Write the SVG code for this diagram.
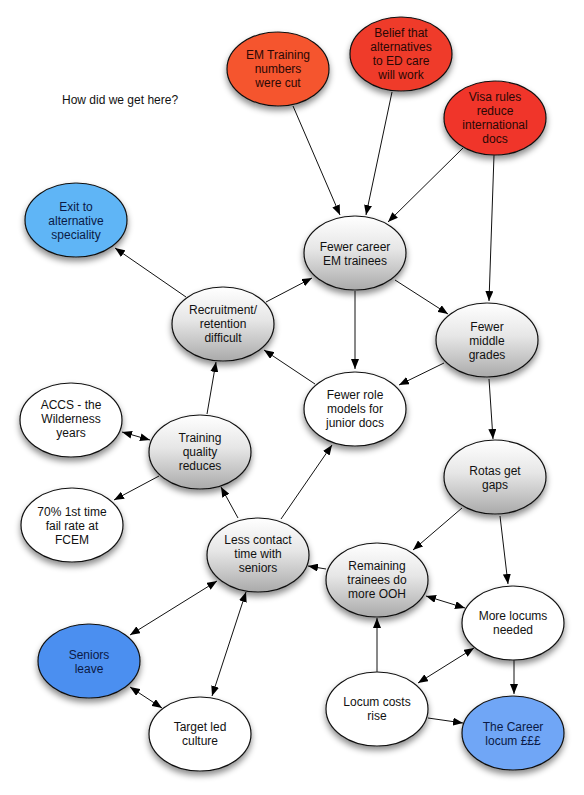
<svg xmlns="http://www.w3.org/2000/svg" width="584" height="795" viewBox="0 0 584 795">
<defs>
<linearGradient id="gray" x1="0" y1="0" x2="0" y2="1">
<stop offset="0" stop-color="#ffffff"/>
<stop offset="0.45" stop-color="#e6e6e6"/>
<stop offset="1" stop-color="#aaaaaa"/>
</linearGradient>
<filter id="sh" x="-20%" y="-20%" width="140%" height="150%">
<feDropShadow dx="0" dy="4" stdDeviation="3" flood-color="#000" flood-opacity="0.45"/>
</filter>
<marker id="ah" viewBox="0 0 10 8" refX="10" refY="4" markerWidth="10" markerHeight="8" markerUnits="userSpaceOnUse" orient="auto-start-reverse">
<path d="M0,0 L10,4 L0,8 z" fill="#000"/>
</marker>
</defs>
<style>
.n ellipse{stroke:#111;stroke-width:1.2;filter:url(#sh)}
.n text{font-family:"Liberation Sans",Arial,sans-serif;font-size:12px;text-anchor:middle;fill:#111}
.red text{fill:#2a0805}
.blue text{fill:#0b1a45}
.e line{stroke:#111;stroke-width:1;fill:none}
.one{marker-end:url(#ah)}
.two{marker-end:url(#ah);marker-start:url(#ah)}
.gray{fill:url(#gray)}
.white{fill:#ffffff}
</style>
<rect width="584" height="795" fill="#ffffff"/>
<text x="62" y="104" font-family="Liberation Sans, Arial, sans-serif" font-size="12" fill="#111">How did we get here?</text>
<g id="connectors" class="e">
<line class="one" x1="293" y1="106" x2="340" y2="215"/>
<line class="one" x1="392" y1="92" x2="366" y2="215"/>
<line class="one" x1="463" y1="148" x2="388" y2="222"/>
<line class="one" x1="494" y1="155" x2="489" y2="301"/>
<line class="one" x1="395" y1="280" x2="448" y2="314"/>
<line class="one" x1="355" y1="291" x2="355" y2="369"/>
<line class="one" x1="444" y1="363" x2="399" y2="385"/>
<line class="one" x1="489" y1="379" x2="493" y2="439"/>
<line class="one" x1="266" y1="302" x2="312" y2="278"/>
<line class="one" x1="186" y1="297" x2="115" y2="248"/>
<line class="one" x1="315" y1="384" x2="264" y2="350"/>
<line class="one" x1="207" y1="414" x2="216" y2="362"/>
<line class="two" x1="122" y1="432" x2="150" y2="440"/>
<line class="one" x1="159" y1="476" x2="114" y2="500"/>
<line class="one" x1="238" y1="518" x2="221" y2="487"/>
<line class="one" x1="281" y1="519" x2="332" y2="445"/>
<line class="one" x1="326" y1="569" x2="308" y2="566"/>
<line class="one" x1="462" y1="508" x2="413" y2="550"/>
<line class="one" x1="500" y1="516" x2="508" y2="584"/>
<line class="two" x1="426" y1="596" x2="465" y2="608"/>
<line class="one" x1="377" y1="672" x2="377" y2="618"/>
<line class="two" x1="418" y1="683" x2="474" y2="648"/>
<line class="one" x1="514" y1="660" x2="514" y2="694"/>
<line class="one" x1="428" y1="718" x2="463" y2="723"/>
<line class="two" x1="217" y1="581" x2="130" y2="635"/>
<line class="two" x1="246" y1="592" x2="212" y2="696"/>
<line class="two" x1="130" y1="687" x2="162" y2="708"/>
</g>
<g id="em-training" class="n red"><ellipse cx="278" cy="69" rx="51" ry="37" fill="#f5552f"/><text x="278" y="59">EM Training</text><text x="278" y="73">numbers</text><text x="278" y="87">were cut</text></g>
<g id="belief" class="n red"><ellipse cx="401" cy="54" rx="51" ry="37" fill="#ef3a2a"/><text x="401" y="37">Belief that</text><text x="401" y="51">alternatives</text><text x="401" y="65">to ED care</text><text x="401" y="79">will work</text></g>
<g id="visa" class="n red"><ellipse cx="495" cy="118" rx="51" ry="37" fill="#f0342a"/><text x="495" y="101">Visa rules</text><text x="495" y="115">reduce</text><text x="495" y="129">international</text><text x="495" y="143">docs</text></g>
<g id="exit" class="n blue"><ellipse cx="76" cy="220" rx="51" ry="37" fill="#5fb5f6"/><text x="76" y="211">Exit to</text><text x="76" y="225">alternative</text><text x="76" y="239">speciality</text></g>
<g id="recruitment" class="n"><ellipse class="gray" cx="223" cy="324" rx="51" ry="37"/><text x="223" y="314">Recruitment/</text><text x="223" y="328">retention</text><text x="223" y="342">difficult</text></g>
<g id="fewer-career" class="n"><ellipse class="gray" cx="355" cy="253" rx="51" ry="37"/><text x="355" y="251">Fewer career</text><text x="355" y="265">EM trainees</text></g>
<g id="fewer-middle" class="n"><ellipse class="gray" cx="487" cy="340" rx="51" ry="37"/><text x="487" y="331">Fewer</text><text x="487" y="345">middle</text><text x="487" y="359">grades</text></g>
<g id="fewer-role" class="n"><ellipse class="white" cx="355" cy="409" rx="51" ry="37"/><text x="355" y="399">Fewer role</text><text x="355" y="413">models for</text><text x="355" y="427">junior docs</text></g>
<g id="rotas" class="n"><ellipse class="gray" cx="495" cy="477" rx="51" ry="37"/><text x="495" y="475">Rotas get</text><text x="495" y="489">gaps</text></g>
<g id="accs" class="n"><ellipse class="white" cx="71" cy="420" rx="51" ry="37"/><text x="71" y="409">ACCS - the</text><text x="71" y="423">Wilderness</text><text x="71" y="437">years</text></g>
<g id="training" class="n"><ellipse class="gray" cx="200" cy="452" rx="51" ry="37"/><text x="200" y="442">Training</text><text x="200" y="456">quality</text><text x="200" y="470">reduces</text></g>
<g id="fail-rate" class="n"><ellipse class="white" cx="72" cy="525" rx="51" ry="37"/><text x="72" y="516">70% 1st time</text><text x="72" y="530">fail rate at</text><text x="72" y="544">FCEM</text></g>
<g id="less-contact" class="n"><ellipse class="gray" cx="258" cy="555" rx="51" ry="37"/><text x="258" y="544">Less contact</text><text x="258" y="558">time with</text><text x="258" y="572">seniors</text></g>
<g id="remaining" class="n"><ellipse class="gray" cx="377" cy="580" rx="51" ry="37"/><text x="377" y="570">Remaining</text><text x="377" y="584">trainees do</text><text x="377" y="598">more OOH</text></g>
<g id="more-locums" class="n"><ellipse class="white" cx="513" cy="623" rx="51" ry="37"/><text x="513" y="620">More locums</text><text x="513" y="634">needed</text></g>
<g id="seniors" class="n blue"><ellipse cx="89" cy="661" rx="51" ry="37" fill="#4b8ff0"/><text x="89" y="659">Seniors</text><text x="89" y="673">leave</text></g>
<g id="target" class="n"><ellipse class="white" cx="200" cy="734" rx="51" ry="37"/><text x="200" y="731">Target led</text><text x="200" y="745">culture</text></g>
<g id="locum-costs" class="n"><ellipse class="white" cx="377" cy="709" rx="51" ry="37"/><text x="377" y="706">Locum costs</text><text x="377" y="720">rise</text></g>
<g id="career-locum" class="n blue"><ellipse cx="513" cy="733" rx="51" ry="37" fill="#6fa6f6"/><text x="513" y="731">The Career</text><text x="513" y="745">locum £££</text></g>
</svg>
